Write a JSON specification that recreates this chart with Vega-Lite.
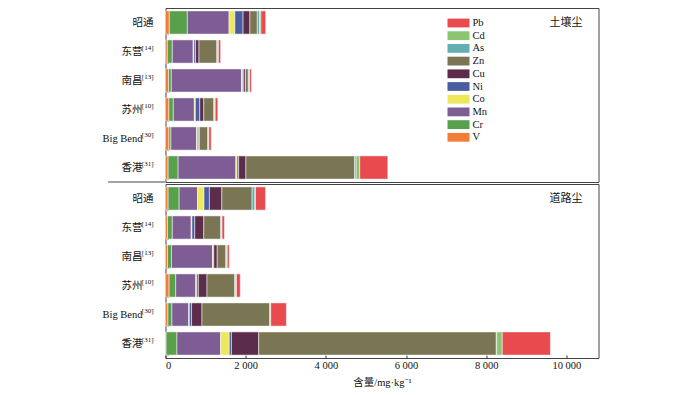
{
  "$schema": "https://vega.github.io/schema/vega-lite/v6.json",
  "padding": {"left": 101.5, "top": 7, "right": 0, "bottom": 0},
  "background": "white",
  "config": {
    "view": {"stroke": "#444", "strokeWidth": 1},
    "font": "Liberation Serif",
    "axis": {"labelFont": "Liberation Serif, Noto Sans CJK SC", "labelFontSize": 10.5, "labelColor": "#111", "titleFont": "Liberation Serif, Noto Sans CJK SC", "titleFontSize": 10.5, "titleFontWeight": "normal", "titleColor": "#111", "domain": false},
    "legend": {"labelFont": "Liberation Serif", "labelFontSize": 10.5, "labelColor": "#111"}
  },
  "datasets": {
    "dust": [
      {"d":"土壤尘","s":"昭通","e":"V","v":95},{"d":"土壤尘","s":"昭通","e":"Cr","v":450},{"d":"土壤尘","s":"昭通","e":"Mn","v":1040},{"d":"土壤尘","s":"昭通","e":"Co","v":145},{"d":"土壤尘","s":"昭通","e":"Ni","v":205},{"d":"土壤尘","s":"昭通","e":"Cu","v":170},{"d":"土壤尘","s":"昭通","e":"Zn","v":185},{"d":"土壤尘","s":"昭通","e":"As","v":55},{"d":"土壤尘","s":"昭通","e":"Cd","v":35},{"d":"土壤尘","s":"昭通","e":"Pb","v":120},
      {"d":"土壤尘","s":"东营","e":"V","v":45},{"d":"土壤尘","s":"东营","e":"Cr","v":125},{"d":"土壤尘","s":"东营","e":"Mn","v":520},{"d":"土壤尘","s":"东营","e":"Co","v":20},{"d":"土壤尘","s":"东营","e":"Ni","v":40},{"d":"土壤尘","s":"东营","e":"Cu","v":85},{"d":"土壤尘","s":"东营","e":"Zn","v":445},{"d":"土壤尘","s":"东营","e":"As","v":25},{"d":"土壤尘","s":"东营","e":"Cd","v":15},{"d":"土壤尘","s":"东营","e":"Pb","v":55},
      {"d":"土壤尘","s":"南昌","e":"V","v":75},{"d":"土壤尘","s":"南昌","e":"Cr","v":70},{"d":"土壤尘","s":"南昌","e":"Mn","v":1750},{"d":"土壤尘","s":"南昌","e":"Co","v":25},{"d":"土壤尘","s":"南昌","e":"Ni","v":35},{"d":"土壤尘","s":"南昌","e":"Cu","v":40},{"d":"土壤尘","s":"南昌","e":"Zn","v":70},{"d":"土壤尘","s":"南昌","e":"As","v":20},{"d":"土壤尘","s":"南昌","e":"Cd","v":15},{"d":"土壤尘","s":"南昌","e":"Pb","v":45},
      {"d":"土壤尘","s":"苏州","e":"V","v":85},{"d":"土壤尘","s":"苏州","e":"Cr","v":110},{"d":"土壤尘","s":"苏州","e":"Mn","v":525},{"d":"土壤尘","s":"苏州","e":"Co","v":25},{"d":"土壤尘","s":"苏州","e":"Ni","v":110},{"d":"土壤尘","s":"苏州","e":"Cu","v":100},{"d":"土壤尘","s":"苏州","e":"Zn","v":250},{"d":"土壤尘","s":"苏州","e":"As","v":15},{"d":"土壤尘","s":"苏州","e":"Cd","v":20},{"d":"土壤尘","s":"苏州","e":"Pb","v":65},
      {"d":"土壤尘","s":"Big Bend","e":"V","v":85},{"d":"土壤尘","s":"Big Bend","e":"Cr","v":50},{"d":"土壤尘","s":"Big Bend","e":"Mn","v":640},{"d":"土壤尘","s":"Big Bend","e":"Co","v":20},{"d":"土壤尘","s":"Big Bend","e":"Ni","v":30},{"d":"土壤尘","s":"Big Bend","e":"Cu","v":20},{"d":"土壤尘","s":"Big Bend","e":"Zn","v":210},{"d":"土壤尘","s":"Big Bend","e":"As","v":15},{"d":"土壤尘","s":"Big Bend","e":"Cd","v":10},{"d":"土壤尘","s":"Big Bend","e":"Pb","v":60},
      {"d":"土壤尘","s":"香港","e":"V","v":65},{"d":"土壤尘","s":"香港","e":"Cr","v":250},{"d":"土壤尘","s":"香港","e":"Mn","v":1440},{"d":"土壤尘","s":"香港","e":"Co","v":30},{"d":"土壤尘","s":"香港","e":"Ni","v":40},{"d":"土壤尘","s":"香港","e":"Cu","v":180},{"d":"土壤尘","s":"香港","e":"Zn","v":2710},{"d":"土壤尘","s":"香港","e":"As","v":40},{"d":"土壤尘","s":"香港","e":"Cd","v":90},{"d":"土壤尘","s":"香港","e":"Pb","v":700},
      {"d":"道路尘","s":"昭通","e":"V","v":65},{"d":"道路尘","s":"昭通","e":"Cr","v":275},{"d":"道路尘","s":"昭通","e":"Mn","v":460},{"d":"道路尘","s":"昭通","e":"Co","v":160},{"d":"道路尘","s":"昭通","e":"Ni","v":135},{"d":"道路尘","s":"昭通","e":"Cu","v":310},{"d":"道路尘","s":"昭通","e":"Zn","v":755},{"d":"道路尘","s":"昭通","e":"As","v":70},{"d":"道路尘","s":"昭通","e":"Cd","v":15},{"d":"道路尘","s":"昭通","e":"Pb","v":250},
      {"d":"道路尘","s":"东营","e":"V","v":50},{"d":"道路尘","s":"东营","e":"Cr","v":120},{"d":"道路尘","s":"东营","e":"Mn","v":470},{"d":"道路尘","s":"东营","e":"Co","v":20},{"d":"道路尘","s":"东营","e":"Ni","v":70},{"d":"道路尘","s":"东营","e":"Cu","v":225},{"d":"道路尘","s":"东营","e":"Zn","v":420},{"d":"道路尘","s":"东营","e":"As","v":25},{"d":"道路尘","s":"东营","e":"Cd","v":10},{"d":"道路尘","s":"东营","e":"Pb","v":60},
      {"d":"道路尘","s":"南昌","e":"V","v":50},{"d":"道路尘","s":"南昌","e":"Cr","v":100},{"d":"道路尘","s":"南昌","e":"Mn","v":1025},{"d":"道路尘","s":"南昌","e":"Co","v":15},{"d":"道路尘","s":"南昌","e":"Ni","v":15},{"d":"道路尘","s":"南昌","e":"Cu","v":85},{"d":"道路尘","s":"南昌","e":"Zn","v":215},{"d":"道路尘","s":"南昌","e":"As","v":20},{"d":"道路尘","s":"南昌","e":"Cd","v":15},{"d":"道路尘","s":"南昌","e":"Pb","v":50},
      {"d":"道路尘","s":"苏州","e":"V","v":90},{"d":"道路尘","s":"苏州","e":"Cr","v":165},{"d":"道路尘","s":"苏州","e":"Mn","v":500},{"d":"道路尘","s":"苏州","e":"Co","v":25},{"d":"道路尘","s":"苏州","e":"Ni","v":40},{"d":"道路尘","s":"苏州","e":"Cu","v":215},{"d":"道路尘","s":"苏州","e":"Zn","v":690},{"d":"道路尘","s":"苏州","e":"As","v":25},{"d":"道路尘","s":"苏州","e":"Cd","v":20},{"d":"道路尘","s":"苏州","e":"Pb","v":95},
      {"d":"道路尘","s":"Big Bend","e":"V","v":60},{"d":"道路尘","s":"Big Bend","e":"Cr","v":100},{"d":"道路尘","s":"Big Bend","e":"Mn","v":420},{"d":"道路尘","s":"Big Bend","e":"Co","v":15},{"d":"道路尘","s":"Big Bend","e":"Ni","v":55},{"d":"道路尘","s":"Big Bend","e":"Cu","v":260},{"d":"道路尘","s":"Big Bend","e":"Zn","v":1690},{"d":"道路尘","s":"Big Bend","e":"As","v":15},{"d":"道路尘","s":"Big Bend","e":"Cd","v":10},{"d":"道路尘","s":"Big Bend","e":"Pb","v":390},
      {"d":"道路尘","s":"香港","e":"V","v":15},{"d":"道路尘","s":"香港","e":"Cr","v":270},{"d":"道路尘","s":"香港","e":"Mn","v":1090},{"d":"道路尘","s":"香港","e":"Co","v":215},{"d":"道路尘","s":"香港","e":"Ni","v":55},{"d":"道路尘","s":"香港","e":"Cu","v":680},{"d":"道路尘","s":"香港","e":"Zn","v":5925},{"d":"道路尘","s":"香港","e":"As","v":10},{"d":"道路尘","s":"香港","e":"Cd","v":140},{"d":"道路尘","s":"香港","e":"Pb","v":1200}
    ],
    "elements": [
      {"e":"V","k":1},{"e":"Cr","k":2},{"e":"Mn","k":3},{"e":"Co","k":4},{"e":"Ni","k":5},{"e":"Cu","k":6},{"e":"Zn","k":7},{"e":"As","k":8},{"e":"Cd","k":9},{"e":"Pb","k":10}
    ],
    "sites": [
      {"s":"昭通","ref":""},{"s":"东营","ref":"[14]"},{"s":"南昌","ref":"[13]"},{"s":"苏州","ref":"[10]"},{"s":"Big Bend","ref":"[30]"},{"s":"香港","ref":"[31]"}
    ]
  },
  "resolve": {"scale": {"color": "shared"}, "legend": {"color": "shared"}},
  "spacing": 0,
  "vconcat": [
    {
      "width": 433, "height": 174,
      "layer": [
        {
          "data": {"name": "dust"},
          "transform": [{"filter": "datum.d == '土壤尘'"}, {"lookup": "e", "from": {"data": {"name": "elements"}, "key": "e", "fields": ["k"]}}],
          "mark": {"type": "bar", "stroke": "white", "strokeWidth": 0.5},
          "encoding": {
            "y": {"field": "s", "type": "nominal", "scale": {"domain": ["昭通","东营","南昌","苏州","Big Bend","香港"], "paddingInner": 0.2, "paddingOuter": 0.1},
                  "axis": {"title": null, "labels": false, "tickBand": "extent", "tickSize": -3, "tickColor": "#aaa"}},
            "x": {"field": "v", "type": "quantitative", "stack": "zero", "scale": {"domain": [0, 10800], "nice": false}, "axis": null},
            "order": {"field": "k", "type": "quantitative", "sort": "ascending"},
            "color": {"field": "e", "type": "nominal",
                      "scale": {"domain": ["V","Cr","Mn","Co","Ni","Cu","Zn","As","Cd","Pb"], "range": ["#f27c3a","#59a04c","#7e5d94","#ede85a","#4a5da0","#5b2d4a","#7a7653","#62aeb3","#8dc46f","#e84a4e"]},
                      "legend": {"title": null, "orient": "none", "legendX": 287.5, "legendY": 9.5,
                                 "values": ["Pb","Cd","As","Zn","Cu","Ni","Co","Mn","Cr","V"],
                                 "symbolType": "M-2,-0.8H2V0.8H-2Z", "symbolSize": 121, "symbolStrokeWidth": 0, "symbolOpacity": 1, "rowPadding": 1.7, "labelOffset": 8.5}}
          }
        },
        {
          "data": {"name": "sites"},
          "transform": [{"filter": "datum.ref != ''"}],
          "mark": {"type": "text", "align": "right", "baseline": "middle", "dx": -23, "fontSize": 10.5, "font": "Liberation Serif, Noto Sans CJK SC", "color": "#111"},
          "encoding": {"y": {"field": "s", "type": "nominal"}, "x": {"datum": 0}, "text": {"field": "s"}}
        },
        {
          "data": {"name": "sites"},
          "transform": [{"filter": "datum.ref == ''"}],
          "mark": {"type": "text", "align": "right", "baseline": "middle", "dx": -12, "fontSize": 10.5, "font": "Liberation Serif, Noto Sans CJK SC", "color": "#111"},
          "encoding": {"y": {"field": "s", "type": "nominal"}, "x": {"datum": 0}, "text": {"field": "s"}}
        },
        {
          "data": {"name": "sites"},
          "transform": [{"filter": "datum.ref != ''"}],
          "mark": {"type": "text", "align": "right", "baseline": "middle", "dx": -12, "dy": -4, "fontSize": 7, "font": "Liberation Serif", "color": "#111"},
          "encoding": {"y": {"field": "s", "type": "nominal"}, "x": {"datum": 0}, "text": {"field": "ref"}}
        },
        {
          "data": {"values": [{"t": "土壤尘", "s": "昭通"}]},
          "mark": {"type": "text", "align": "right", "baseline": "middle", "fontSize": 11, "font": "Noto Sans CJK SC", "color": "#111"},
          "encoding": {"y": {"field": "s", "type": "nominal"}, "x": {"datum": 10400}, "text": {"field": "t"}}
        },
        {
          "data": {"values": [{"t": "divider"}]},
          "mark": {"type": "rule", "color": "#444", "strokeWidth": 1},
          "encoding": {"x": {"datum": -1430}, "x2": {"datum": 0}, "y": {"value": "height"}}
        }
      ]
    },
    {
      "width": 433, "height": 174,
      "layer": [
        {
          "data": {"name": "dust"},
          "transform": [{"filter": "datum.d == '道路尘'"}, {"lookup": "e", "from": {"data": {"name": "elements"}, "key": "e", "fields": ["k"]}}],
          "mark": {"type": "bar", "stroke": "white", "strokeWidth": 0.5},
          "encoding": {
            "y": {"field": "s", "type": "nominal", "scale": {"domain": ["昭通","东营","南昌","苏州","Big Bend","香港"], "paddingInner": 0.2, "paddingOuter": 0.1},
                  "axis": {"title": null, "labels": false, "tickBand": "extent", "tickSize": -3, "tickColor": "#aaa"}},
            "x": {"field": "v", "type": "quantitative", "stack": "zero", "scale": {"domain": [0, 10800], "nice": false},
                  "axis": {"title": "含量/mg·kg⁻¹", "values": [0,2000,4000,6000,8000,10000], "labelExpr": "replace(format(datum.value, ','), ',', ' ')", "tickSize": -3, "tickColor": "#333", "labelPadding": 5, "titlePadding": 7, "grid": false}},
            "order": {"field": "k", "type": "quantitative", "sort": "ascending"},
            "color": {"field": "e", "type": "nominal"}
          }
        },
        {
          "data": {"name": "sites"},
          "transform": [{"filter": "datum.ref != ''"}],
          "mark": {"type": "text", "align": "right", "baseline": "middle", "dx": -23, "fontSize": 10.5, "font": "Liberation Serif, Noto Sans CJK SC", "color": "#111"},
          "encoding": {"y": {"field": "s", "type": "nominal"}, "x": {"datum": 0}, "text": {"field": "s"}}
        },
        {
          "data": {"name": "sites"},
          "transform": [{"filter": "datum.ref == ''"}],
          "mark": {"type": "text", "align": "right", "baseline": "middle", "dx": -12, "fontSize": 10.5, "font": "Liberation Serif, Noto Sans CJK SC", "color": "#111"},
          "encoding": {"y": {"field": "s", "type": "nominal"}, "x": {"datum": 0}, "text": {"field": "s"}}
        },
        {
          "data": {"name": "sites"},
          "transform": [{"filter": "datum.ref != ''"}],
          "mark": {"type": "text", "align": "right", "baseline": "middle", "dx": -12, "dy": -4, "fontSize": 7, "font": "Liberation Serif", "color": "#111"},
          "encoding": {"y": {"field": "s", "type": "nominal"}, "x": {"datum": 0}, "text": {"field": "ref"}}
        },
        {
          "data": {"values": [{"t": "道路尘", "s": "昭通"}]},
          "mark": {"type": "text", "align": "right", "baseline": "middle", "fontSize": 11, "font": "Noto Sans CJK SC", "color": "#111"},
          "encoding": {"y": {"field": "s", "type": "nominal"}, "x": {"datum": 10400}, "text": {"field": "t"}}
        }
      ]
    }
  ]
}
